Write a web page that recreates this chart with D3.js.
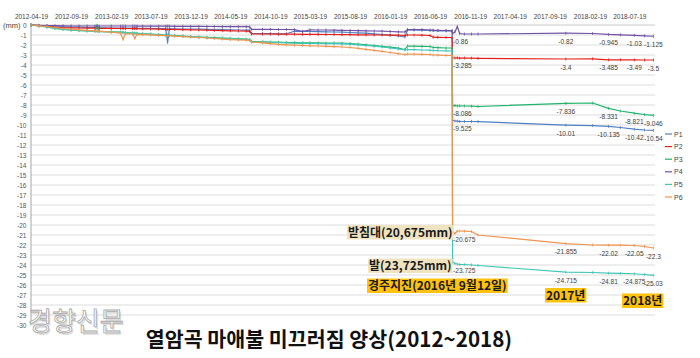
<!DOCTYPE html>
<html><head><meta charset="utf-8">
<script src="https://cdn.jsdelivr.net/npm/d3@7"></script>
<style>
html,body{margin:0;padding:0;background:#fff;}
svg{display:block;}
</style></head>
<body><svg id="c" width="700" height="358"></svg>
<script>
const dates = ["2012-04-19","2012-05-19","2012-06-19","2012-07-19","2012-08-19","2012-09-19","2012-10-19","2012-11-19","2012-12-19","2012-12-27",
"2013-01-04","2013-02-19","2013-03-27","2013-04-05","2013-04-14","2013-05-12","2013-05-20","2013-05-28","2013-06-19","2013-07-19",
"2013-08-19","2013-09-15","2013-09-22","2013-09-29","2013-10-19","2013-11-19","2013-12-19","2014-01-19","2014-02-19","2014-03-19",
"2014-04-19","2014-05-19","2014-06-19","2014-07-19","2014-08-01","2014-08-08","2014-09-19","2014-10-19","2014-11-19","2014-12-19",
"2015-01-19","2015-02-19","2015-03-19","2015-04-19","2015-05-19","2015-06-19","2015-07-19","2015-08-19","2015-09-19","2015-10-19",
"2015-11-19","2015-12-19","2016-01-19","2016-02-19","2016-03-15","2016-03-25","2016-04-19","2016-05-19","2016-06-19","2016-07-01",
"2016-07-19","2016-08-19","2016-09-11","2016-09-13","2016-09-22","2016-10-01","2016-10-10","2016-10-28","2016-11-24","2016-12-19",
"2017-11-19","2018-03-01","2018-05-01","2018-06-15","2018-08-07","2018-09-15","2018-10-19"];

const P1 = [0,-0.05,-0.1,-0.15,-0.18,-0.2,-0.22,-0.25,-0.25,-0.26,
-0.27,-0.3,-0.3,-0.3,-0.3,-0.31,-0.31,-0.32,-0.33,-0.33,
-0.35,-0.36,-1.75,-0.37,-0.38,-0.4,-0.4,-0.42,-0.43,-0.45,
-0.46,-0.48,-0.5,-0.51,-0.52,-0.85,-0.86,-0.87,-0.88,-0.88,
-0.62,-0.64,-0.65,-0.66,-0.68,-0.7,-0.72,-0.75,-0.78,-0.82,
-0.88,-0.95,-1.02,-1.1,-1.2,-0.5,-0.5,-0.52,-0.55,-0.56,
-0.58,-0.6,-0.62,-9.525,-9.6,-9.62,-9.64,-9.65,-9.65,-9.66,
-10.01,-10.07,-10.135,-10.25,-10.42,-10.5,-10.54];

const P2 = [0,-0.05,-0.12,-0.2,-0.25,-0.28,-0.3,-0.31,-0.32,-0.32,
-0.33,-0.34,-0.35,-0.35,-0.35,-0.36,-0.36,-0.37,-0.38,-0.4,
-0.42,-0.43,-0.43,-0.44,-0.45,-0.47,-0.48,-0.5,-0.52,-0.55,
-0.57,-0.58,-0.6,-0.62,-0.63,-0.9,-0.9,-0.9,-0.91,-0.92,
-0.92,-0.93,-0.93,-0.94,-0.95,-0.95,-0.96,-0.97,-0.98,-0.99,
-1.0,-1.0,-1.01,-1.02,-1.05,-1.0,-1.0,-1.02,-1.05,-1.22,
-1.23,-1.25,-1.25,-3.285,-3.3,-3.28,-3.32,-3.3,-3.32,-3.33,
-3.4,-3.38,-3.485,-3.48,-3.49,-3.5,-3.5];

const P3 = [0,-0.1,-0.2,-0.33,-0.42,-0.5,-0.55,-0.58,-0.6,-0.02,
-0.63,-0.68,-0.72,-0.74,-0.76,-0.8,-0.82,-0.83,-0.87,-0.9,
-0.95,-1.0,-1.0,-1.02,-1.05,-1.1,-1.15,-1.2,-1.24,-1.27,
-1.3,-1.34,-1.38,-1.42,-1.45,-1.65,-1.68,-1.7,-1.72,-1.75,
-1.77,-1.78,-1.78,-1.79,-1.8,-1.8,-1.82,-1.85,-1.9,-1.98,
-2.06,-2.14,-2.22,-2.32,-2.45,-2.1,-2.12,-2.13,-2.15,-2.25,
-2.27,-2.3,-2.3,-8.086,-8.05,-8.1,-8.08,-8.1,-8.12,-8.15,
-7.836,-7.8,-8.331,-8.6,-8.821,-8.95,-9.046];

const P4 = [0,-0.03,-0.05,-0.07,-0.08,-0.1,-0.1,-0.1,-0.1,-0.1,
-0.1,-0.1,-0.1,-0.1,-0.1,-0.1,-0.1,-0.11,-0.11,-0.12,
-0.12,-0.12,-0.12,-0.12,-0.13,-0.13,-0.14,-0.14,-0.15,-0.15,
-0.16,-0.16,-0.17,-0.17,-0.18,-0.43,-0.43,-0.44,-0.45,-0.45,
-0.46,-0.65,-0.48,-0.5,-0.5,-0.52,-0.53,-0.55,-0.56,-0.58,
-0.6,-0.62,-0.65,-0.68,-0.7,-0.45,-0.46,-0.47,-0.5,-0.52,
-0.53,-0.55,-0.55,-0.86,-0.7,-0.15,-0.85,-0.9,-0.9,-0.9,
-0.82,-0.85,-0.945,-0.98,-1.03,-1.08,-1.125];

const P5 = [0,-0.1,-0.2,-0.35,-0.45,-0.52,-0.57,-0.6,-0.63,-0.64,
-0.66,-0.7,-0.74,-0.76,-0.78,-0.82,-0.84,-0.86,-0.9,-0.93,
-0.98,-1.02,-1.03,-1.04,-1.08,-1.13,-1.18,-1.22,-1.27,-1.3,
-1.33,-1.37,-1.41,-1.45,-1.48,-1.7,-1.72,-1.75,-1.77,-1.8,
-1.82,-1.83,-1.84,-1.85,-1.86,-1.87,-1.88,-1.92,-1.98,-2.05,
-2.12,-2.2,-2.3,-2.4,-2.5,-2.45,-2.47,-2.5,-2.52,-2.55,
-2.57,-2.58,-2.6,-23.725,-23.85,-23.9,-23.95,-23.95,-24.0,-24.05,
-24.715,-24.75,-24.81,-24.83,-24.875,-24.95,-25.03];

const P6 = [0,-0.08,-0.15,-0.25,-0.35,-0.42,-0.48,-0.53,-0.58,-0.6,
-0.62,-0.72,-0.82,-1.45,-0.86,-0.9,-1.35,-0.93,-0.96,-1.0,
-1.03,-1.06,-1.07,-1.08,-1.12,-1.16,-1.2,-1.25,-1.3,-1.35,
-1.42,-1.47,-1.5,-1.52,-1.54,-1.7,-1.78,-1.86,-1.93,-1.98,
-2.02,-2.05,-2.08,-2.1,-2.13,-2.17,-2.2,-2.25,-2.33,-2.43,
-2.53,-2.63,-2.75,-2.87,-2.95,-2.9,-2.92,-2.93,-2.95,-3.0,
-3.02,-3.05,-3.05,-20.675,-20.85,-20.6,-20.6,-20.62,-20.65,-21.0,
-21.855,-22.0,-22.02,-22.02,-22.05,-22.15,-22.3];

const seriesNames = ["P1","P2","P3","P4","P5","P6"];
const seriesColors = ["#4F7FC0","#E3201B","#22B46C","#6E52A3","#43C6B6","#EE9550"];
const xTickLabels = ["2012-04-19","2012-09-19","2013-02-19","2013-07-19","2013-12-19","2014-05-19","2014-10-19","2015-03-19","2015-08-19","2016-01-19","2016-06-19","2016-11-19","2017-04-19","2017-09-19","2018-02-19","2018-07-19"];
const yTickValues = [0,-1,-2,-3,-4,-5,-6,-7,-8,-9,-10,-11,-12,-13,-14,-15,-16,-17,-18,-19,-20,-21,-22,-23,-24,-25,-26,-27,-28,-29,-30];
const labelDates = ["2016-09-13","2017-11-19","2018-05-01","2018-08-07","2018-10-19"];
const annotations = [
  {text:"받침대(20,675mm)", x:348, y:236.5, bg:"#F0E4C0"},
  {text:"발(23,725mm)", x:369, y:270, bg:"#F0E4C0"},
  {text:"경주지진(2016년 9월12일)", x:368, y:290, bg:"#FFC20E"},
  {text:"2017년", x:546, y:299.5, bg:"#FFC20E"},
  {text:"2018년", x:623, y:305, bg:"#FFC20E"}
];
const title = "열암곡 마애불 미끄러짐 양상(2012~2018)";

const allSeries = [P1,P2,P3,P4,P5,P6];
const parse = d3.utcParse("%Y-%m-%d");
const dDates = dates.map(parse);

const svg = d3.select("#c");
const x = d3.scaleUtc().domain([parse("2012-04-19"), parse("2018-10-25")]).range([31, 655]);
const y = d3.scaleLinear().domain([0, -30]).range([25, 325]);

// gridlines
svg.append("g").selectAll("line").data(yTickValues.filter(v => v > -30 && v < 0)).join("line")
  .attr("x1", 31).attr("x2", 655).attr("y1", d => y(d)).attr("y2", d => y(d))
  .attr("stroke", "#DCDCDC").attr("stroke-width", 1);
svg.append("line").attr("x1", 31).attr("x2", 655).attr("y1", y(0)).attr("y2", y(0))
  .attr("stroke", "#C8C8C8").attr("stroke-width", 1);

// left axis
const yAxis = d3.axisLeft(y).tickValues(yTickValues).tickSize(0).tickPadding(4).tickFormat(d => String(d));
const gy = svg.append("g").attr("transform", "translate(30.5,0)").call(yAxis);
gy.select(".domain").attr("stroke", "#A6A6A6");
gy.selectAll("text").attr("font-family", "Liberation Sans, Arial, sans-serif").attr("font-size", 6.5).attr("fill", "#555");
svg.append("text").attr("x", 3).attr("y", 27.5).text("(mm)")
  .attr("font-family", "Liberation Sans, Arial, sans-serif").attr("font-size", 7.5).attr("fill", "#444");

// top axis
const xAxis = d3.axisTop(x).tickValues(xTickLabels.map(parse)).tickSize(0).tickPadding(0).tickFormat(d3.utcFormat("%Y-%m-%d"));
const gx = svg.append("g").attr("transform", "translate(0,19)").call(xAxis);
gx.select(".domain").remove();
gx.selectAll("text").attr("font-family", "Liberation Sans, Arial, sans-serif").attr("font-size", 6.5).attr("fill", "#444");

// lines
const line = d3.line().x((d, i) => x(dDates[i])).y(d => y(d));
allSeries.forEach((s, k) => {
  const g = svg.append("g");
  g.append("path").datum(s).attr("d", line).attr("fill", "none")
    .attr("stroke", seriesColors[k]).attr("stroke-width", 1.2).attr("stroke-linejoin", "round");
  g.selectAll("line").data(s).join("line")
    .attr("x1", (d, i) => x(dDates[i])).attr("x2", (d, i) => x(dDates[i]))
    .attr("y1", d => y(d) - 1.5).attr("y2", d => y(d) + 1.5)
    .attr("stroke", seriesColors[k]).attr("stroke-width", 0.8);
});

// data labels
allSeries.forEach((s, k) => {
  labelDates.forEach((ld, j) => {
    const i = dates.indexOf(ld);
    const t = svg.append("text")
      .attr("x", x(dDates[i]) + (j === 0 ? 0.5 : 0))
      .attr("y", y(s[i]) + 10.5)
      .attr("text-anchor", j === 0 ? "start" : "middle")
      .attr("font-family", "Liberation Sans Narrow, Liberation Sans, Arial, sans-serif").attr("font-size", 6.6).attr("fill", "#404040")
      .text(String(s[i]));
  });
});

// legend
seriesNames.forEach((n, k) => {
  const ly = 134 + k * 12.6;
  svg.append("line").attr("x1", 665).attr("x2", 672).attr("y1", ly).attr("y2", ly)
    .attr("stroke", seriesColors[k]).attr("stroke-width", 1.2);
  svg.append("text").attr("x", 674).attr("y", ly + 2.5).text(n)
    .attr("font-family", "Liberation Sans, Arial, sans-serif").attr("font-size", 7).attr("fill", "#444");
});

// annotations
annotations.forEach(a => {
  const g = svg.append("g");
  const r = g.append("rect").attr("fill", a.bg);
  const t = g.append("text").attr("x", a.x).attr("y", a.y).text(a.text)
    .attr("font-family", "Noto Sans CJK KR, sans-serif").attr("font-weight", 700)
    .attr("font-size", 12).attr("fill", "#1a1a1a");
  const w = t.node().getComputedTextLength();
  r.attr("x", a.x - 1).attr("y", a.y - 11.5).attr("width", w + 2).attr("height", 14.5);
});

// watermark
svg.append("text").attr("x", 29.5).attr("y", 332.5).text("경향신문")
  .attr("font-family", "Noto Sans CJK KR, sans-serif").attr("font-size", 26)
  .attr("fill", "#c8c8c8").attr("fill-opacity", 0.6);
svg.append("text").attr("x", 28).attr("y", 331).text("경향신문")
  .attr("font-family", "Noto Sans CJK KR, sans-serif").attr("font-size", 26)
  .attr("fill", "#ffffff").attr("fill-opacity", 0.9).attr("stroke", "#a8a8a8").attr("stroke-width", 0.8);

// title
svg.append("text").attr("x", 329).attr("y", 347).attr("text-anchor", "middle").text(title)
  .attr("font-family", "Noto Sans CJK KR, sans-serif").attr("font-weight", 700).attr("font-size", 20.6).attr("fill", "#111");
</script></body></html>
